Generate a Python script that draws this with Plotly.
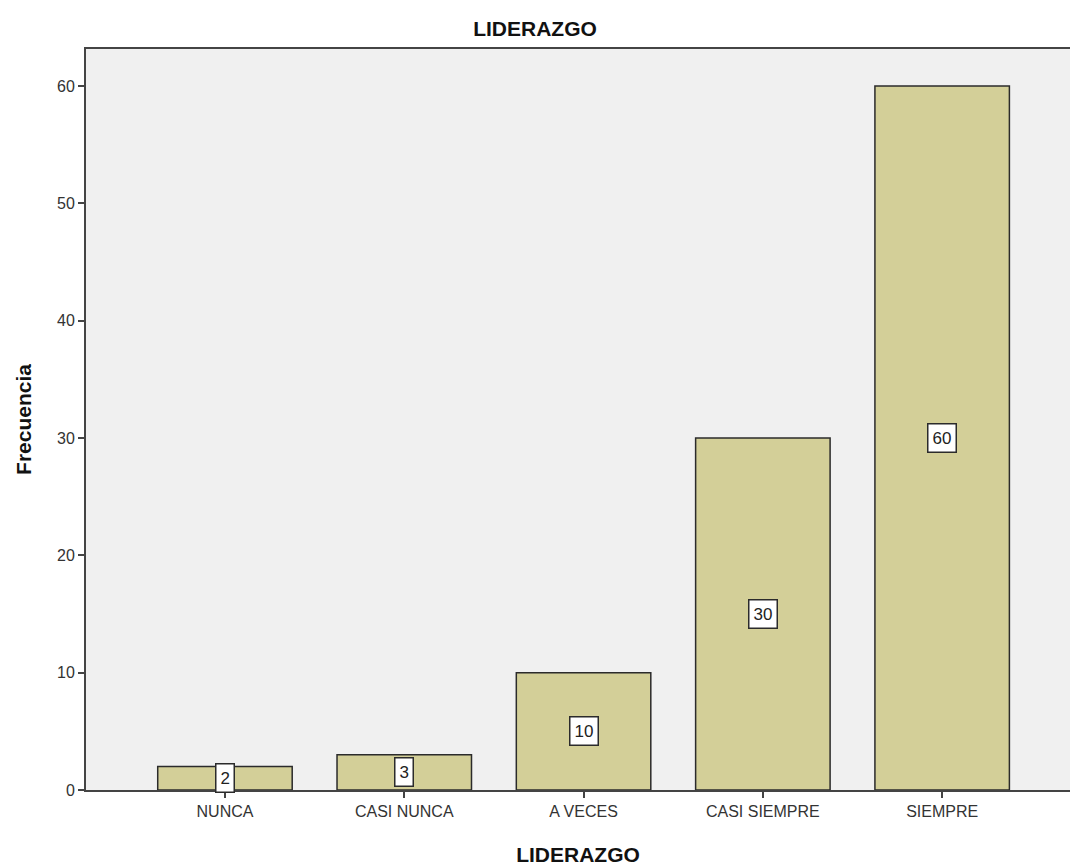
import plotly.graph_objects as go

categories = ["NUNCA", "CASI NUNCA", "A VECES", "CASI SIEMPRE", "SIEMPRE"]
frecuencia = [2, 3, 10, 30, 60]
y_ticks = [0, 10, 20, 30, 40, 50, 60]

FONT = "Liberation Sans, Arial, sans-serif"
AXIS_COLOR = "#444444"

fig = go.Figure()
fig.add_trace(go.Bar(
    x=categories,
    y=frecuencia,
    width=0.75,
    marker=dict(color="#d3cf98", line=dict(color="#2b2b2b", width=1.5)),
    hoverinfo="x+y",
))

# value labels: white boxes placed halfway up each bar
for cat, val in zip(categories, frecuencia):
    fig.add_annotation(
        x=cat, y=val / 2, text=str(val), showarrow=False,
        font=dict(family=FONT, size=17, color="#222222"),
        bgcolor="white", bordercolor="#2b2b2b", borderwidth=1.5, borderpad=4,
    )

fig.update_layout(
    width=1070, height=867,
    margin=dict(l=86, r=0, t=49, b=77),
    paper_bgcolor="white",
    plot_bgcolor="#f0f0f0",
    showlegend=False,
    title=dict(text="<b>LIDERAZGO</b>", x=0.5, xref="container", xanchor="center",
               y=0.967, yanchor="middle",
               font=dict(family=FONT, size=21, color="#111111")),
    font=dict(family=FONT, size=16, color="#333333"),
)

fig.update_xaxes(
    range=[-0.775, 4.713],
    showline=True, linecolor=AXIS_COLOR, linewidth=2, mirror=True,
    ticks="outside", ticklen=6, tickwidth=2, tickcolor=AXIS_COLOR,
    showgrid=False, zeroline=False,
    tickfont=dict(family=FONT, size=16, color="#333333"),
    title=dict(text="<b>LIDERAZGO</b>", standoff=28,
               font=dict(family=FONT, size=21, color="#111111")),
)
fig.update_yaxes(
    range=[0, 63.15],
    tickvals=y_ticks,
    showline=True, linecolor=AXIS_COLOR, linewidth=2,
    ticks="outside", ticklen=6, tickwidth=2, tickcolor=AXIS_COLOR,
    showgrid=False, zeroline=False,
    tickfont=dict(family=FONT, size=16, color="#333333"),
    title=dict(text="<b>Frecuencia</b>", standoff=20,
               font=dict(family=FONT, size=21, color="#111111")),
)

fig.write_html("out.html")
